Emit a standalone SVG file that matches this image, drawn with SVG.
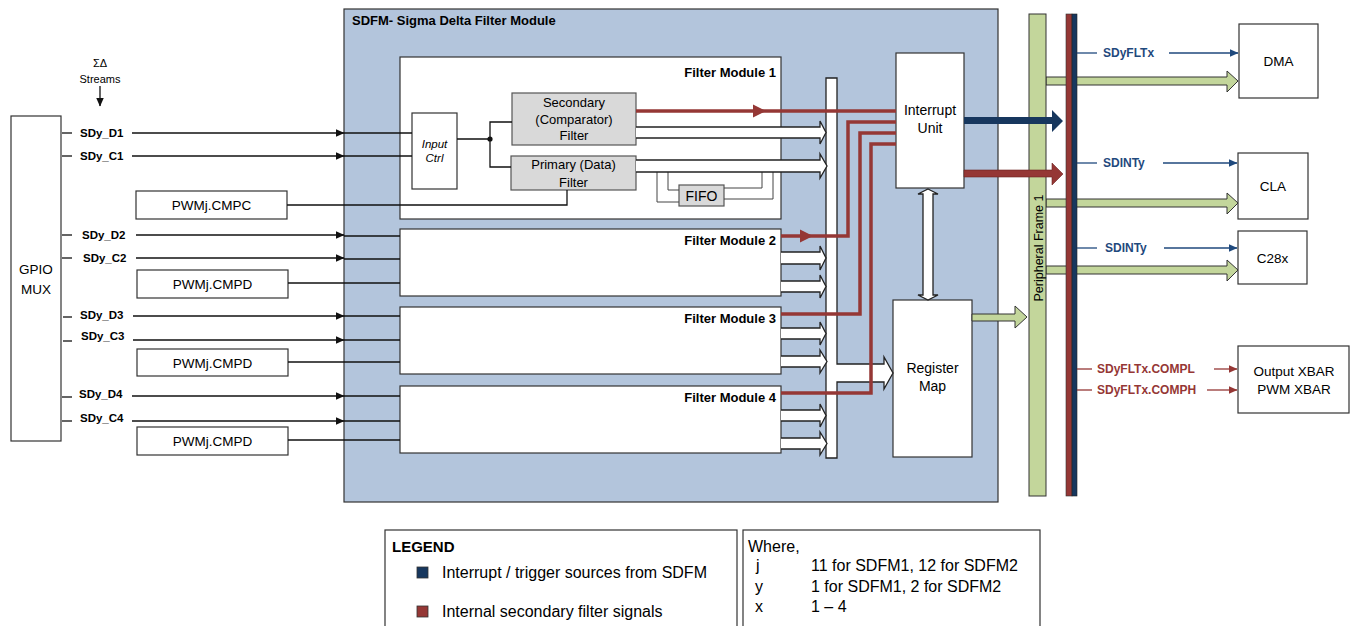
<svg xmlns="http://www.w3.org/2000/svg" width="1351" height="626" viewBox="0 0 1351 626">
<defs>
<style>
text{font-family:"Liberation Sans",Arial,sans-serif;fill:#000}
.box{fill:#fff;stroke:#333;stroke-width:1.2}
.gbox{fill:#d9d9d9;stroke:#555;stroke-width:1.2}
.lbl{font-size:11.5px;font-weight:bold}
.mt{font-size:13px;font-weight:bold;text-anchor:end}
.c{text-anchor:middle}
.t13{font-size:13.5px}
.ln{stroke:#111;stroke-width:1.3;fill:none}
.thin{stroke:#444;stroke-width:1;fill:none}
.wa{fill:#fff;stroke:#222;stroke-width:1.3}
.red{stroke:#953735;stroke-width:3.5;fill:none}
.blu{stroke:#1f497d;stroke-width:1.3;fill:none}
.rdl{stroke:#953735;stroke-width:1.3;fill:none}
.bt{font-size:12px;font-weight:bold;fill:#1f497d}
.rt{font-size:12px;font-weight:bold;fill:#953735}
.green{fill:#c3d69b;stroke:#333;stroke-width:1}
.leg{font-size:16px}
</style>
<marker id="ah" markerWidth="9" markerHeight="8" refX="8.5" refY="4" orient="auto" markerUnits="userSpaceOnUse"><path d="M0,0 L9,4 L0,8 Z" fill="#111"/></marker>
<marker id="ahb" markerWidth="9" markerHeight="8" refX="8.5" refY="4" orient="auto" markerUnits="userSpaceOnUse"><path d="M0,0 L9,4 L0,8 Z" fill="#1f497d"/></marker>
<marker id="ahr" markerWidth="9" markerHeight="8" refX="8.5" refY="4" orient="auto" markerUnits="userSpaceOnUse"><path d="M0,0 L9,4 L0,8 Z" fill="#953735"/></marker>
</defs>

<g id="sdfm">
<rect x="344" y="9" width="654" height="493" fill="#b3c5dc" stroke="#333" stroke-width="1.2"/>
<text x="352" y="25" font-size="13px" font-weight="bold">SDFM- Sigma Delta Filter Module</text>
</g>

<g id="gpio-mux">
<rect class="box" x="11" y="116" width="50" height="325"/>
<text class="c t13" x="36" y="274">GPIO</text>
<text class="c t13" x="36" y="294">MUX</text>
</g>

<g id="streams">
<text class="c" x="100" y="67" font-size="11px">ΣΔ</text>
<text class="c" x="100" y="83" font-size="11px">Streams</text>
</g>

<g id="pwm1"><rect class="box" x="136" y="191" width="151" height="28"/><text class="c t13" x="211.5" y="210">PWMj.CMPC</text></g>
<g id="pwm2"><rect class="box" x="137" y="270" width="151" height="28"/><text class="c t13" x="212.5" y="289">PWMj.CMPD</text></g>
<g id="pwm3"><rect class="box" x="137" y="349" width="151" height="27"/><text class="c t13" x="212.5" y="367.5">PWMj.CMPD</text></g>
<g id="pwm4"><rect class="box" x="137" y="427" width="151" height="28"/><text class="c t13" x="212.5" y="446">PWMj.CMPD</text></g>

<g id="filter-module-1">
<rect class="box" x="400" y="57" width="381" height="162"/>
<text class="mt" x="776" y="77">Filter Module 1</text>
</g>
<g id="input-ctrl">
<rect class="box" x="412" y="113" width="45" height="76"/>
<text class="c" x="434.5" y="148" font-size="11.5px" font-style="italic">Input</text>
<text class="c" x="434.5" y="162" font-size="11.5px" font-style="italic">Ctrl</text>
</g>
<g id="secondary-filter">
<rect class="gbox" x="512" y="93" width="124" height="52"/>
<text class="c" x="574" y="107" font-size="13px">Secondary</text>
<text class="c" x="574" y="123.5" font-size="13px">(Comparator)</text>
<text class="c" x="574" y="140" font-size="13px">Filter</text>
</g>
<g id="primary-filter">
<rect class="gbox" x="511" y="156" width="125" height="34"/>
<text class="c" x="573.5" y="169" font-size="13px">Primary (Data)</text>
<text class="c" x="573.5" y="187" font-size="13px">Filter</text>
</g>
<g id="fifo">
<rect class="gbox" x="679" y="185" width="45" height="21"/>
<text class="c" x="701.5" y="201" font-size="14px">FIFO</text>
</g>

<g id="filter-module-2"><rect class="box" x="400" y="229" width="381" height="67"/><text class="mt" x="776" y="245">Filter Module 2</text></g>
<g id="filter-module-3"><rect class="box" x="400" y="307" width="381" height="67"/><text class="mt" x="776" y="323">Filter Module 3</text></g>
<g id="filter-module-4"><rect class="box" x="400" y="386" width="381" height="67"/><text class="mt" x="776" y="402">Filter Module 4</text></g>

<g id="interrupt-unit">
<rect class="box" x="896" y="53" width="68" height="135"/>
<text class="c" x="930" y="115" font-size="14px">Interrupt</text>
<text class="c" x="930" y="133" font-size="14px">Unit</text>
</g>
<g id="register-map">
<rect class="box" x="893" y="300" width="79" height="157"/>
<text class="c" x="932.5" y="373" font-size="14px">Register</text>
<text class="c" x="932.5" y="391" font-size="14px">Map</text>
</g>

<g id="dma"><rect class="box" x="1239" y="24" width="79" height="74"/><text class="c t13" x="1278.5" y="66">DMA</text></g>
<g id="cla"><rect class="box" x="1238" y="153" width="70" height="66"/><text class="c t13" x="1273" y="191">CLA</text></g>
<g id="c28x"><rect class="box" x="1238" y="231" width="69" height="53"/><text class="c t13" x="1272.5" y="263">C28x</text></g>
<g id="xbar"><rect class="box" x="1238" y="346" width="111" height="67"/><text class="c t13" x="1294" y="376">Output XBAR</text><text class="c t13" x="1294" y="394">PWM XBAR</text></g>

<g id="connectors">
<line class="ln" x1="100" y1="86" x2="100" y2="106" marker-end="url(#ah)"/>
<g>
<line class="ln" x1="62" y1="133" x2="72" y2="133"/><text class="lbl" x="80" y="137">SDy_D1</text>
<line class="ln" x1="132" y1="133" x2="344" y2="133" marker-end="url(#ah)"/><line class="ln" x1="344" y1="133" x2="412" y2="133"/>
<line class="ln" x1="62" y1="156" x2="72" y2="156"/><text class="lbl" x="80" y="160">SDy_C1</text>
<line class="ln" x1="132" y1="156" x2="344" y2="156" marker-end="url(#ah)"/><line class="ln" x1="344" y1="156" x2="412" y2="156"/>
<line class="ln" x1="62" y1="235" x2="72" y2="235"/><text class="lbl" x="82" y="239">SDy_D2</text>
<line class="ln" x1="136" y1="235" x2="344" y2="235" marker-end="url(#ah)"/><line class="ln" x1="344" y1="236" x2="400" y2="236"/>
<line class="ln" x1="62" y1="258" x2="72" y2="258"/><text class="lbl" x="83" y="262">SDy_C2</text>
<line class="ln" x1="136" y1="258" x2="344" y2="258" marker-end="url(#ah)"/><line class="ln" x1="344" y1="259" x2="400" y2="259"/>
<line class="ln" x1="63" y1="317" x2="72" y2="317"/><text class="lbl" x="80" y="319">SDy_D3</text>
<line class="ln" x1="133" y1="316" x2="344" y2="316" marker-end="url(#ah)"/><line class="ln" x1="344" y1="316" x2="400" y2="316"/>
<line class="ln" x1="63" y1="341" x2="72" y2="341"/><text class="lbl" x="81" y="340">SDy_C3</text>
<line class="ln" x1="133" y1="340" x2="344" y2="340" marker-end="url(#ah)"/><line class="ln" x1="344" y1="340" x2="400" y2="340"/>
<line class="ln" x1="62" y1="397" x2="72" y2="397"/><text class="lbl" x="79" y="398">SDy_D4</text>
<line class="ln" x1="132" y1="396" x2="344" y2="396" marker-end="url(#ah)"/><line class="ln" x1="344" y1="396" x2="400" y2="396"/>
<line class="ln" x1="62" y1="421" x2="72" y2="421"/><text class="lbl" x="80" y="422">SDy_C4</text>
<line class="ln" x1="132" y1="421" x2="344" y2="421" marker-end="url(#ah)"/><line class="ln" x1="344" y1="421" x2="400" y2="421"/>
</g>
<path class="ln" d="M287,205 H567 V190"/>
<line class="ln" x1="288" y1="283" x2="400" y2="283"/>
<line class="ln" x1="288" y1="362" x2="400" y2="362"/>
<line class="ln" x1="288" y1="440" x2="400" y2="440"/>
<path class="ln" d="M457,139 H490 M512,122 H490 V167 H511"/>
<circle cx="490" cy="139" r="2.6" fill="#111"/>
<path class="thin" d="M657,172 V202 H679 M668,172 V190 H679 M724,188 H762 V172 M724,199 H773 V172"/>
<path class="wa" d="M826,78 H837 V364 H884 V357 L893,373 L884,389 V382 H837 V458 H826 Z"/>
<path class="wa" d="M636,127 H820 V121 L826,132.5 L820,144 V138 H636"/>
<path class="wa" d="M636,160 H820 V154 L827,166 L820,178 V172 H636"/>
<path class="wa" d="M781,252 H820 V246 L826,258 L820,270 V264 H781"/>
<path class="wa" d="M781,281 H820 V275 L826,286.5 L820,298 V292 H781"/>
<path class="wa" d="M781,328 H820 V322 L826,333.5 L820,345 V339 H781"/>
<path class="wa" d="M781,356 H820 V350 L827,361.5 L820,373 V367 H781"/>
<path class="wa" d="M781,410 H820 V404 L826,415.5 L820,427 V421 H781"/>
<path class="wa" d="M781,438 H820 V432 L827,443.5 L820,455 V449 H781"/>
<path class="red" d="M636,111 H896"/>
<path d="M753,104.5 L766,111 L753,117.5 Z" fill="#953735"/>
<path class="red" d="M781,236 H848 V122 H896"/>
<path d="M800,229.5 L813,236 L800,242.5 Z" fill="#953735"/>
<path class="red" d="M781,314 H860 V133 H896"/>
<path class="red" d="M781,393 H871 V144 H896"/>
<path class="wa" d="M928,189 L938,194 H933 V295 H938 L928,300 L918,295 H923 V194 H918 Z"/>
<path class="green" d="M972,314 H1015 V306 L1027,317 L1015,328 V321 H972 Z"/>
<path class="green" d="M1046,77 H1227 V71 L1238,81 L1227,92 V85 H1046 Z"/>
<path class="green" d="M1046,199 H1227 V193 L1238,203 L1227,214 V207 H1046 Z"/>
<path class="green" d="M1046,266 H1227 V260 L1238,270 L1227,281 V274 H1046 Z"/>
</g>

<g id="peripheral-frame-1">
<rect class="green" x="1029" y="14" width="17" height="482"/>
<text class="c" transform="translate(1042.5,248) rotate(-90)" font-size="12.5px">Peripheral Frame 1</text>
</g>

<g id="output-arrows">
<path d="M964,117 H1052 V110 L1063,121 L1052,132 V124 H964 Z" fill="#17375e"/>
<path d="M964,170 H1052 V163 L1063,174 L1052,185 V177 H964 Z" fill="#953735" stroke="#6b2220" stroke-width="0.6"/>
</g>

<g id="signal-bus">
<rect x="1066" y="14" width="6" height="482" fill="#953735" stroke="#333" stroke-width="0.6"/>
<rect x="1072" y="14" width="5" height="482" fill="#17375e" stroke="#222" stroke-width="0.6"/>
</g>

<g id="bus-signals">
<line class="blu" x1="1077" y1="53" x2="1097" y2="53"/><text class="bt" x="1103" y="57">SDyFLTx</text>
<line class="blu" x1="1169" y1="53" x2="1238" y2="53" marker-end="url(#ahb)"/>
<line class="blu" x1="1077" y1="163" x2="1097" y2="163"/><text class="bt" x="1103" y="167">SDINTy</text>
<line class="blu" x1="1163" y1="163" x2="1237" y2="163" marker-end="url(#ahb)"/>
<line class="blu" x1="1077" y1="248" x2="1097" y2="248"/><text class="bt" x="1105" y="252">SDINTy</text>
<line class="blu" x1="1164" y1="248" x2="1237" y2="248" marker-end="url(#ahb)"/>
<line class="rdl" x1="1077" y1="369" x2="1092" y2="369"/><text class="rt" x="1097" y="373">SDyFLTx.COMPL</text>
<line class="rdl" x1="1214" y1="369" x2="1237" y2="369" marker-end="url(#ahr)"/>
<line class="rdl" x1="1077" y1="390" x2="1092" y2="390"/><text class="rt" x="1097" y="394">SDyFLTx.COMPH</text>
<line class="rdl" x1="1207" y1="390" x2="1237" y2="390" marker-end="url(#ahr)"/>
</g>

<g id="legend">
<rect class="box" x="385" y="530" width="352" height="110"/>
<text x="392" y="552" font-size="15px" font-weight="bold">LEGEND</text>
<rect x="417" y="567" width="11" height="11" fill="#17375e" stroke="#333" stroke-width="0.8"/>
<text class="leg" x="442" y="578">Interrupt / trigger sources from SDFM</text>
<rect x="417" y="606" width="11" height="11" fill="#953735" stroke="#333" stroke-width="0.8"/>
<text class="leg" x="442" y="617">Internal secondary filter signals</text>
</g>

<g id="where">
<rect class="box" x="743" y="530" width="297" height="110"/>
<text class="leg" x="748" y="552">Where,</text>
<text class="leg" x="756" y="571">j</text><text class="leg" x="811" y="571">11 for SDFM1, 12 for SDFM2</text>
<text class="leg" x="755" y="592">y</text><text class="leg" x="811" y="592">1 for SDFM1, 2 for SDFM2</text>
<text class="leg" x="755" y="612">x</text><text class="leg" x="811" y="612">1 – 4</text>
</g>
</svg>
